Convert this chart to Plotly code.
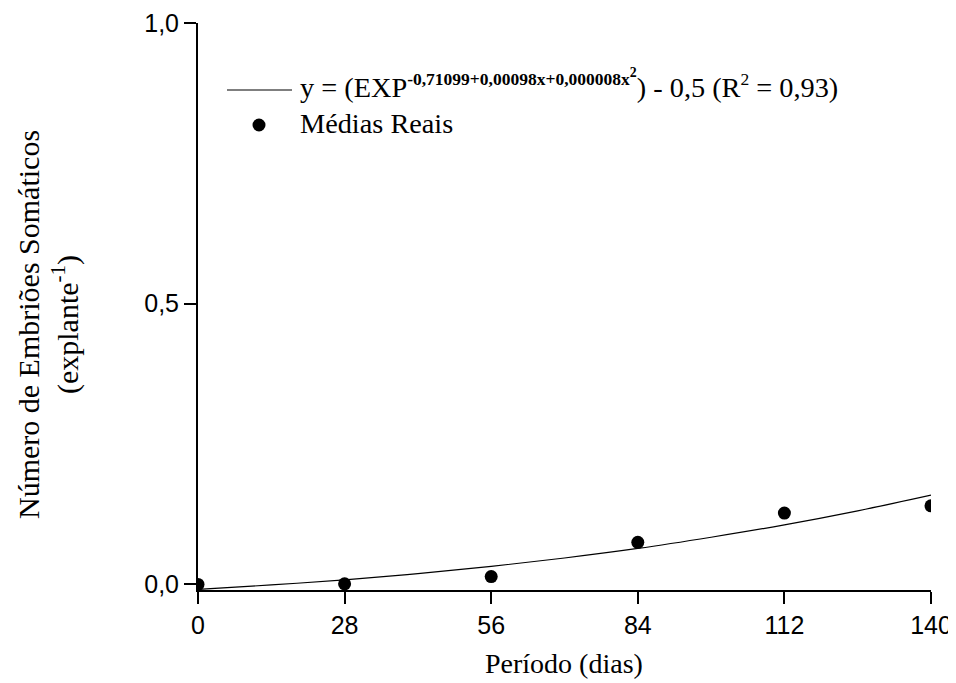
import plotly.graph_objects as go

# ---- data ----
days_ticks = [0, 28, 56, 84, 112, 140]
tick_labels_x = ["0", "28", "56", "84", "112", "140"]
y_ticks = [0.0, 0.5, 1.0]
tick_labels_y = ["0,0", "0,5", "1,0"]

# observed means ("Médias Reais")
obs_days = [0, 28, 56, 84, 112, 140]
obs_vals = [0.0, 0.001, 0.014, 0.075, 0.127, 0.140]

# fitted curve
fit_days = [0, 14, 28, 42, 56, 70, 84, 98, 112, 126, 140]
fit_vals = [-0.009, -0.001, 0.008, 0.019, 0.032, 0.047, 0.064, 0.084, 0.106, 0.131, 0.159]

SERIF = "Liberation Serif, Times New Roman, serif"
SANS = "Liberation Sans, Arial, sans-serif"

OFF = 8  # default page body margin
W, H = 948, 675
ML, MR, MT, MB = 190, 25, 15, 93
PW, PH = W - ML - MR, H - MT - MB


def px_x(px):
    return (px - OFF - ML) / PW


def px_y(py):
    return (H - MB - (py - OFF)) / PH


fig = go.Figure()
fig.add_trace(go.Scatter(
    x=fit_days, y=fit_vals, mode="lines",
    line=dict(color="black", width=1.2, shape="spline"),
    showlegend=False, hoverinfo="skip",
))
fig.add_trace(go.Scatter(
    x=obs_days, y=obs_vals, mode="markers",
    marker=dict(color="black", size=13),
    showlegend=False,
))

legend_line1 = ("y = (EXP<sup><b><span style=\"font-size:17.5px\">-0,71099+0,00098x+0,000008x</span>"
                "<sup>2</sup></b></sup>) - 0,5 (R<sup><span style=\"font-size:17.5px\">2</span></sup> = 0,93)")

fig.update_layout(
    width=W, height=H,
    margin=dict(l=ML, r=MR, t=MT, b=MB, autoexpand=False),
    paper_bgcolor="white", plot_bgcolor="white",
    xaxis=dict(
        range=[0, 140], tickmode="array", tickvals=days_ticks, ticktext=tick_labels_x,
        showline=True, linecolor="black", linewidth=2, mirror=False,
        ticks="outside", ticklen=12, tickwidth=2, tickcolor="black",
        showgrid=False, zeroline=False,
        tickfont=dict(family=SANS, size=25, color="black"),
    ),
    yaxis=dict(
        range=[-0.01, 1.0], tickmode="array", tickvals=y_ticks, ticktext=tick_labels_y,
        showline=True, linecolor="black", linewidth=2, mirror=False,
        ticks="outside", ticklen=12, tickwidth=2, tickcolor="black",
        showgrid=False, zeroline=False,
        tickfont=dict(family=SANS, size=25, color="black"),
    ),
    showlegend=False,
    annotations=[
        dict(text="Período (dias)", xref="paper", yref="paper",
             x=px_x(564), y=px_y(664), xanchor="center", yanchor="middle",
             showarrow=False, font=dict(family=SERIF, size=28, color="black")),
        dict(text="Número de Embriões Somáticos<br>(explante<sup>-1</sup>)",
             xref="paper", yref="paper", x=px_x(48), y=px_y(325),
             xanchor="center", yanchor="middle", textangle=-90,
             showarrow=False, font=dict(family=SERIF, size=30, color="black")),
        dict(text=legend_line1, xref="paper", yref="paper",
             x=px_x(298), y=px_y(84), xanchor="left", yanchor="middle",
             showarrow=False, font=dict(family=SERIF, size=28.3, color="black")),
        dict(text="Médias Reais", xref="paper", yref="paper",
             x=px_x(298), y=px_y(123), xanchor="left", yanchor="middle",
             showarrow=False, font=dict(family=SERIF, size=28.3, color="black")),
    ],
    shapes=[
        dict(type="line", xref="paper", yref="paper",
             x0=px_x(227), x1=px_x(292), y0=px_y(90), y1=px_y(90),
             line=dict(color="black", width=1.2)),
        dict(type="circle", xref="paper", yref="paper",
             xsizemode="pixel", ysizemode="pixel",
             xanchor=px_x(259), yanchor=px_y(125),
             x0=-6.5, x1=6.5, y0=-6.5, y1=6.5,
             fillcolor="black", line=dict(color="black", width=0)),
    ],
)

fig.write_html("out.html")
